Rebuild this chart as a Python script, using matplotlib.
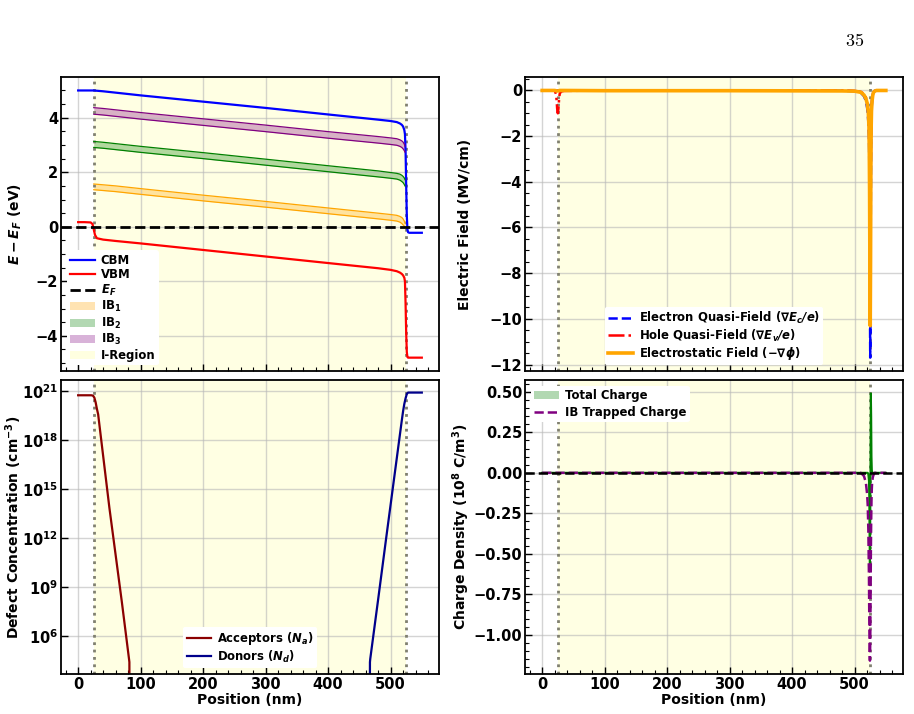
import numpy as np
import matplotlib
matplotlib.use('Agg')
import matplotlib.pyplot as plt
from matplotlib.ticker import AutoMinorLocator, LogLocator, FuncFormatter
from matplotlib.patches import Patch
from matplotlib.lines import Line2D

plt.rcParams['font.family'] = ['DejaVu Sans']
plt.rcParams['font.weight'] = 'bold'
plt.rcParams['axes.labelweight'] = 'bold'
plt.rcParams['mathtext.fontset'] = 'dejavusans'
plt.rcParams['font.size'] = 10

# ---------------- data ----------------
# band diagram (nm, eV)
band_pos = [0, 10, 20, 23, 25, 27, 30, 40, 60, 100, 200, 300, 400, 480, 500, 510,
            515, 518, 520, 522, 523, 524, 525, 526, 527, 528, 530, 540, 550]
cbm = [5.0, 5.0, 5.0, 5.0, 5.0, 4.995, 4.99, 4.97, 4.92, 4.82, 4.59, 4.36, 4.12, 3.93,
       3.88, 3.84, 3.79, 3.74, 3.68, 3.55, 3.40, 2.8, 1.5, 0.4, -0.1, -0.2, -0.22, -0.22, -0.22]
vbm = [0.17, 0.17, 0.16, 0.1, -0.1, -0.3, -0.42, -0.47, -0.52, -0.61, -0.85, -1.09, -1.33,
       -1.52, -1.58, -1.63, -1.68, -1.73, -1.78, -1.87, -2.0, -2.8, -3.9, -4.6, -4.78,
       -4.8, -4.8, -4.8, -4.8]

ib_pos = [25, 27, 30, 40, 60, 100, 200, 300, 400, 480, 500, 510, 515, 518, 520, 522, 523]
ib1_top = [1.57, 1.565, 1.56, 1.54, 1.50, 1.40, 1.16, 0.93, 0.69, 0.50, 0.45, 0.42, 0.38,
           0.34, 0.29, 0.21, 0.13]
ib1_bot = [1.36, 1.355, 1.35, 1.33, 1.29, 1.19, 0.95, 0.72, 0.48, 0.29, 0.24, 0.21, 0.17,
           0.12, 0.07, 0.02, -0.01]
ib2_top = [3.13, 3.125, 3.12, 3.10, 3.05, 2.95, 2.72, 2.48, 2.24, 2.05, 1.99, 1.96, 1.93,
           1.89, 1.85, 1.79, 1.73]
ib2_bot = [2.91, 2.905, 2.90, 2.88, 2.83, 2.73, 2.50, 2.26, 2.02, 1.83, 1.78, 1.75, 1.71,
           1.66, 1.62, 1.55, 1.50]
ib3_top = [4.37, 4.365, 4.36, 4.34, 4.29, 4.19, 3.96, 3.73, 3.49, 3.31, 3.26, 3.23, 3.19,
           3.15, 3.11, 3.03, 2.96]
ib3_bot = [4.13, 4.125, 4.12, 4.10, 4.05, 3.95, 3.72, 3.49, 3.25, 3.07, 3.02, 2.99, 2.95,
           2.91, 2.86, 2.79, 2.74]

# electric fields (MV/cm)
field_pos = [0, 15, 20, 22, 23, 24, 25, 26, 27, 28, 30, 35, 100, 300, 480, 500, 510, 515,
             518, 520, 521, 522, 523, 523.5, 524, 524.5, 525, 525.5, 526, 526.5, 527, 528,
             529, 530, 532, 535, 550]
e_field_elec = [0, 0, 0, 0, 0, 0, 0, 0, 0, 0, 0, 0, 0, 0, -0.01, -0.03, -0.1, -0.25,
                -0.45, -0.75, -1.0, -1.4, -2.0, -3.2, -5.5, -9.0, -11.7, -9.0, -4.5, -1.8,
                -0.9, -0.4, -0.18, -0.08, -0.02, 0, 0]
e_field_hole = [0, 0, 0, -0.15, -0.4, -0.8, -1.0, -0.8, -0.4, -0.15, -0.05, -0.02, 0, 0,
                0, -0.02, -0.06, -0.15, -0.3, -0.5, -0.7, -0.95, -1.5, -2.5, -4.5, -8.0,
                -10.0, -7.0, -3.0, -1.4, -0.8, -0.4, -0.2, -0.1, -0.03, 0, 0]
e_field_es = [0, 0, 0, -0.01, -0.02, -0.02, -0.02, -0.02, -0.01, 0, 0, 0, -0.01, -0.01,
              -0.02, -0.03, -0.08, -0.2, -0.35, -0.55, -0.75, -1.0, -1.6, -2.6, -4.5, -7.8,
              -10.3, -7.5, -3.5, -1.6, -0.9, -0.45, -0.22, -0.1, -0.03, 0, 0]

# defect concentrations (cm^-3)
acc_pos = [0, 10, 20, 22, 24, 26, 28, 30, 32, 50, 70, 81.6, 82.0, 82.3]
acceptors = [5.4e20, 5.4e20, 5.4e20, 5.35e20, 5.0e20, 3.8e20, 2.0e20, 8.0e19, 3.7e19,
             7.0e13, 1.15e8, 3.4e4, 2.5e4, 1.0]
don_pos = [466.7, 467.0, 467.5, 480, 493, 510, 518, 520, 522, 524, 526, 528, 540, 550]
donors = [1.0, 2.5e4, 4.0e4, 1.6e8, 1.0e12, 7.9e16, 1.6e19, 5.6e19, 1.6e20, 3.5e20,
          6.5e20, 7.9e20, 7.9e20, 7.9e20]

# charge density (1e8 C/m^3)
charge_pos = [0, 100, 500, 510, 515, 518, 520, 521, 522, 523, 523.5, 524, 524.5, 525,
              525.5, 526, 526.5, 527, 527.5, 528, 529, 530, 532, 535, 550]
total_charge = [0, 0, 0, 0, 0, 0, 0, 0, -0.01, -0.05, -0.15, -0.4, -0.58, -0.3, 0.1,
                0.49, 0.35, 0.1, 0.02, 0, 0, 0, 0, 0, 0]
ib_trapped = [0, 0, 0, 0, -0.02, -0.06, -0.13, -0.2, -0.35, -0.65, -0.9, -1.1, -1.16,
              -1.05, -0.8, -0.5, -0.3, -0.17, -0.1, -0.06, -0.03, -0.015, 0, 0, 0]

i_region = (25, 525)
x_ticks = [0, 100, 200, 300, 400, 500]

# ---------------- figure ----------------
fig, axes = plt.subplots(2, 2, figsize=(9.14, 7.14), dpi=100, sharex=True)
fig.subplots_adjust(left=0.0667, right=0.988, top=0.892, bottom=0.056,
                    wspace=0.2275, hspace=0.031)
ax1, ax2 = axes[0]
ax3, ax4 = axes[1]

yellow = '#FFFFE0'
leg_kw = dict(fontsize=8.4, frameon=True, edgecolor='none', framealpha=1,
              borderaxespad=0.5, handlelength=2.1, borderpad=0.3,
              handletextpad=0.5)
for ax in axes.flat:
    ax.axvspan(i_region[0], i_region[1], color=yellow, alpha=0.9, lw=0, zorder=0.5)
    for xv in i_region:
        ax.axvline(xv, color='#808070', ls=':', lw=2, zorder=1.6)
    ax.grid(True, color='#b8b8b8', alpha=0.6, lw=1)
    ax.tick_params(direction='in', which='both', top=False, right=False)
    ax.tick_params(which='major', length=5, width=1, labelsize=10.5, pad=2)
    ax.tick_params(which='minor', length=3, width=0.8)
    ax.xaxis.set_minor_locator(AutoMinorLocator())
    for s in ax.spines.values():
        s.set_linewidth(1.3)

# --- top left: band diagram
ax1.plot(band_pos, cbm, color='blue', lw=1.6, label='CBM')
ax1.plot(band_pos, vbm, color='red', lw=1.6, label='VBM')
ax1.axhline(0, color='black', ls='--', lw=2, zorder=3)
for top, bot, col in [(ib1_top, ib1_bot, 'orange'),
                      (ib2_top, ib2_bot, 'green'),
                      (ib3_top, ib3_bot, 'purple')]:
    ax1.fill_between(ib_pos, bot, top, color=col, alpha=0.3, lw=0)
    ax1.plot(ib_pos, top, color=col, lw=0.9)
    ax1.plot(ib_pos, bot, color=col, lw=0.9)
ax1.set_ylabel(r'$\mathbfit{E - E_F}$ (eV)', labelpad=-1.5)
ax1.yaxis.set_minor_locator(AutoMinorLocator())
h1 = [Line2D([], [], color='blue', lw=1.6),
      Line2D([], [], color='red', lw=1.6),
      Line2D([], [], color='black', ls='--', lw=2),
      Patch(facecolor='orange', alpha=0.3),
      Patch(facecolor='green', alpha=0.3),
      Patch(facecolor='purple', alpha=0.3),
      Patch(facecolor=yellow)]
l1 = ['CBM', 'VBM', r'$\mathbfit{E_F}$', r'IB$_\mathbf{1}$', r'IB$_\mathbf{2}$',
      r'IB$_\mathbf{3}$', 'I-Region']
ax1.legend(h1, l1, loc='lower left', labelspacing=0.12, **leg_kw)

# --- top right: fields
ax2.plot(field_pos, e_field_elec, color='blue', ls='--', lw=1.8,
         label=r'Electron Quasi-Field ($\mathbf{\nabla}\mathbfit{E_c/e}$)')
ax2.plot(field_pos, e_field_hole, color='red', ls='-.', lw=1.8,
         label=r'Hole Quasi-Field ($\mathbf{\nabla}\mathbfit{E_v/e}$)')
ax2.plot(field_pos, e_field_es, color='orange', lw=2.6,
         label=r'Electrostatic Field ($\mathbf{-\nabla}\mathbfit{\phi}$)')
ax2.set_ylabel('Electric Field (MV/cm)', labelpad=1)
ax2.yaxis.set_minor_locator(AutoMinorLocator())
ax2.legend(loc='lower center', labelspacing=0.1, **leg_kw)

# --- bottom left: defects
ax3.plot(acc_pos, acceptors, color='#8B0000', lw=1.6, label=r'Acceptors ($\mathbfit{N_a}$)')
ax3.plot(don_pos, donors, color='#00008B', lw=1.6, label=r'Donors ($\mathbfit{N_d}$)')
ax3.set_yscale('log')
ax3.set_ylim(10**3.67, 10**21.66)
ax3.yaxis.set_major_locator(LogLocator(base=10, subs=(1.0,), numticks=7))
ax3.yaxis.set_major_formatter(FuncFormatter(
    lambda v, p: r'$\mathbf{10^{%d}}$' % int(round(np.log10(v)))))
ax3.set_ylabel(r'Defect Concentration (cm$^{-3}$)', labelpad=-1.5)
ax3.set_xlabel('Position (nm)', labelpad=1)
ax3.legend(loc='lower center', labelspacing=0.1, **leg_kw)

# --- bottom right: charge
ax4.fill_between(charge_pos, 0, total_charge, color='green', alpha=0.3, lw=0,
                 label='Total Charge')
ax4.plot(charge_pos, total_charge, color='green', lw=1.5)
ax4.plot(charge_pos, ib_trapped, color='purple', ls='--', lw=1.8,
         label='IB Trapped Charge')
ax4.axhline(0, color='black', ls='--', lw=1.8, zorder=3)
ax4.set_ylabel(r'Charge Density (10$^{8}$ C/m$^{3}$)', labelpad=1)
ax4.set_xlabel('Position (nm)', labelpad=1)
ax4.yaxis.set_minor_locator(AutoMinorLocator())
ax4.legend(loc='upper left', labelspacing=0.3, **leg_kw)
ax4.set_yticks([-1.0, -0.75, -0.5, -0.25, 0.0, 0.25, 0.5])
ax4.yaxis.set_major_formatter(FuncFormatter(lambda v, p: f'{v:.2f}'.replace('-', '\u2212')))

ax1.set_xticks(x_ticks)
fig.align_ylabels([ax1, ax3])
fig.align_ylabels([ax2, ax4])

fig.text(0.935, 0.943, r'$\mathrm{35}$', math_fontfamily='cm', fontsize=13,
         ha='center', va='center')

fig.savefig('out.png', dpi=100)
